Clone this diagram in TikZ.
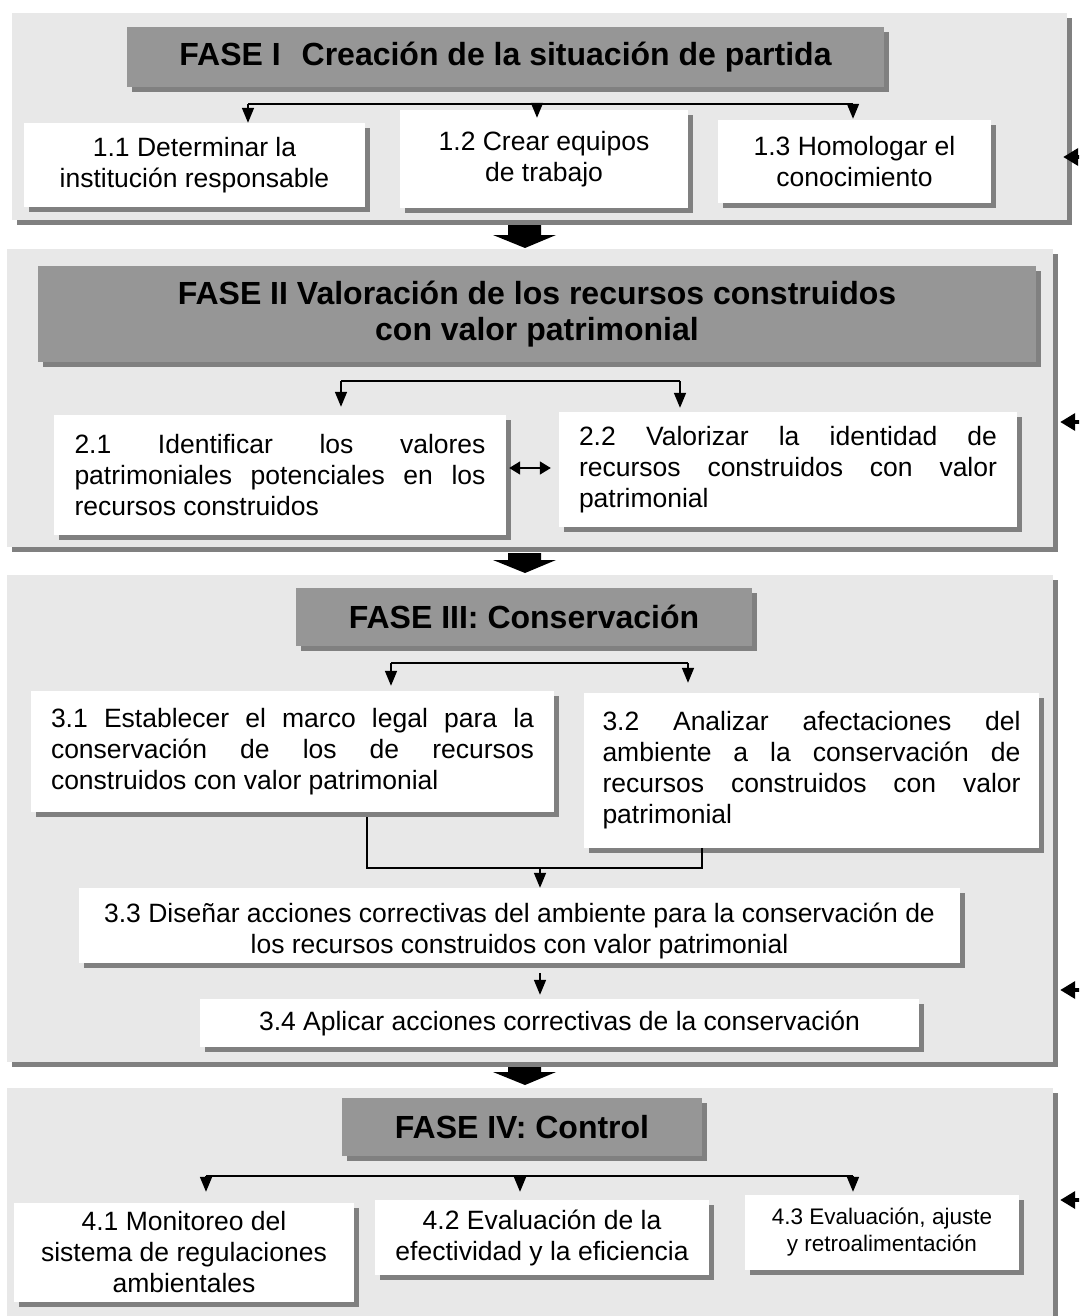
\documentclass[tikz,border=0pt]{standalone}
\usepackage{fontspec}
\setmainfont{Liberation Sans}
\usetikzlibrary{shadows,arrows.meta}
\hbadness=10000
\tolerance=10000

\begin{document}
\begin{tikzpicture}[x=1pt,y=-1pt,
  phasebox/.style={shape=rectangle,fill=panelgray,inner sep=0pt,
    general shadow={fill=shadegray,shadow xshift=5pt,shadow yshift=-5pt}},
  titlebox/.style={shape=rectangle,fill=headgray,inner sep=0pt,align=center,
    font=\fontsize{32}{36}\selectfont\bfseries,
    general shadow={fill=shadegray,shadow xshift=5pt,shadow yshift=-5pt}},
  taskbox/.style={shape=rectangle,fill=white,inner sep=0pt,align=center,
    font=\fontsize{26.5}{31}\selectfont,
    general shadow={fill=shadegray,shadow xshift=5pt,shadow yshift=-5pt}},
  jtaskbox/.style={taskbox,align=justify},
  branchline/.style={line width=1.6pt},
  stemarrow/.style={line width=1.6pt,-{Triangle[width=12pt,length=15pt]}},
  twoarrow/.style={line width=1.6pt,{Triangle[width=13pt,length=11pt]}-{Triangle[width=13pt,length=11pt]}},
  backarrow/.style={line width=3.5pt,-{Triangle[width=17pt,length=15pt]}}]
\definecolor{panelgray}{RGB}{232,232,232}
\definecolor{headgray}{RGB}{150,150,150}
\definecolor{shadegray}{RGB}{128,128,128}
\useasboundingbox (0,0) rectangle (1079,1316);
\clip (0,0) rectangle (1079,1316);
\fill[white] (0,0) rectangle (1079,1316);

% fases
\node[phasebox,minimum width=1055,minimum height=207] (p1) at (539.5,116.5) {};
\node[phasebox,minimum width=1046,minimum height=298] (p2) at (530,398) {};
\node[phasebox,minimum width=1046,minimum height=487] (p3) at (530,818.5) {};
\node[phasebox,minimum width=1046,minimum height=252] (p4) at (530,1214) {};

% titulos
\node[titlebox,minimum width=757,minimum height=60] (h1) at (505.5,57) {FASE I\hspace{12pt} Creación de la situación de partida};
\node[titlebox,minimum width=998,minimum height=96] (h2) at (537,314) {FASE II Valoración de los recursos construidos\\con valor patrimonial};
\node[titlebox,minimum width=456,minimum height=58] (h3) at (524,617) {FASE III: Conservación};
\node[titlebox,minimum width=360,minimum height=58] (h4) at (522,1127) {FASE IV: Control};

% fase I
\node[taskbox,minimum width=341,minimum height=84] (b11) at (194.5,165) {1.1 Determinar la\\institución responsable};
\node[taskbox,minimum width=288,minimum height=98] (b12) at (544,159) {1.2 Crear equipos\\de trabajo};
\node[taskbox,minimum width=273,minimum height=83] (b13) at (854.5,161.5) {1.3 Homologar el\\conocimiento};

% fase II
\node[jtaskbox,text width=411pt,minimum width=452,minimum height=120] (b21) at (280,475) {2.1 Identificar los valores\linebreak patrimoniales potenciales en los\linebreak recursos construidos};
\node[jtaskbox,text width=418pt,minimum width=458,minimum height=115] (b22) at (788,469.5) {2.2 Valorizar la identidad de\linebreak recursos construidos con valor\linebreak patrimonial};

% fase III
\node[jtaskbox,text width=483pt,minimum width=523,minimum height=121] (b31) at (292.5,751.5) {3.1 Establecer el marco legal para la\linebreak conservación de los de recursos\linebreak construidos con valor patrimonial};
\node[jtaskbox,text width=418pt,minimum width=455,minimum height=155] (b32) at (811.5,770.5) {3.2 Analizar afectaciones del\linebreak ambiente a la conservación de\linebreak recursos construidos con valor\linebreak patrimonial};
\node[taskbox,minimum width=881,minimum height=75] (b33) at (519.5,925.5) {\rule{0pt}{30pt}3.3 Diseñar acciones correctivas del ambiente para la conservación de\\los recursos construidos con valor patrimonial};
\node[taskbox,minimum width=719,minimum height=48] (b34) at (559.5,1023) {3.4 Aplicar acciones correctivas de la conservación};

% fase IV
\node[taskbox,minimum width=340,minimum height=99] (b41) at (184,1252.5) {4.1 Monitoreo del\\sistema de regulaciones\\ambientales};
\node[taskbox,minimum width=334,minimum height=75] (b42) at (542,1237.5) {4.2 Evaluación de la\\efectividad y la eficiencia};
\node[taskbox,minimum width=274,minimum height=75,font=\fontsize{22.5}{27}\selectfont] (b43) at (882,1232.5) {4.3 Evaluación, ajuste\\y retroalimentación};

% ramas fase I
\coordinate (k11) at (248,104);
\coordinate (k12) at (537,104);
\coordinate (k13) at (853,104);
\draw[branchline] (k11) -- (k13);
\draw[stemarrow] (k11) -- (k11 |- b11.north);
\draw[stemarrow,shorten >=-8pt] (k12) -- (k12 |- b12.north);
\draw[stemarrow,shorten >=1pt] (k13) -- (k13 |- b13.north);

% ramas fase II
\coordinate (k21) at (341,381);
\coordinate (k22) at (680,381);
\draw[branchline] (k21) -- (k22);
\draw[stemarrow,shorten >=8pt] (k21) -- (k21 |- b21.north);
\draw[stemarrow,shorten >=4pt] (k22) -- (k22 |- b22.north);
\coordinate (d2) at (530,468);
\draw[twoarrow,shorten <=3pt,shorten >=8pt] (d2 -| b21.east) -- (d2 -| b22.west);

% ramas fase III
\coordinate (k31) at (391,663);
\coordinate (k32) at (688,663);
\draw[branchline] (k31) -- (k32);
\draw[stemarrow,shorten >=5pt] (k31) -- (k31 |- b31.north);
\draw[stemarrow,shorten >=10pt] (k32) -- (k32 |- b32.north);
\coordinate (j31) at (367,868);
\coordinate (j32) at (702,868);
\coordinate (j33) at (540,868);
\draw[branchline] (j31 |- b31.south) ++(0,5) -- (j31) -- (j32) -- (j32 |- b32.south);
\draw[stemarrow] (j33) -- (j33 |- b33.north);
\draw[stemarrow,shorten <=10pt,shorten >=4pt] (j33 |- b33.south) -- (j33 |- b34.north);

% ramas fase IV
\coordinate (k41) at (206,1176);
\coordinate (k42) at (520,1176);
\coordinate (k43) at (853,1176);
\draw[branchline] (k41) -- (k43);
\draw[stemarrow,shorten >=11pt] (k41) -- (k41 |- b41.north);
\draw[stemarrow,shorten >=8pt] (k42) -- (k42 |- b42.north);
\draw[stemarrow,shorten >=3pt] (k43) -- (k43 |- b43.north);

% flechas entre fases
\foreach \ya/\yb in {225/248,553/573,1067/1085}
  \fill (508,\ya) -- (541,\ya) -- (541,\yb-13) -- (556,\yb-13) -- (525,\yb)
    -- (493,\yb-13) -- (508,\yb-13) -- cycle;

% retroalimentacion
\foreach \p/\y/\s in {p1/157/-4,p2/422/7,p3/990/7,p4/1200/7} {
  \coordinate (fb\p) at (1100,\y);
  \draw[backarrow,shorten >=\s pt] (fb\p) -- (fb\p -| \p.east);
}
\end{tikzpicture}
\end{document}
